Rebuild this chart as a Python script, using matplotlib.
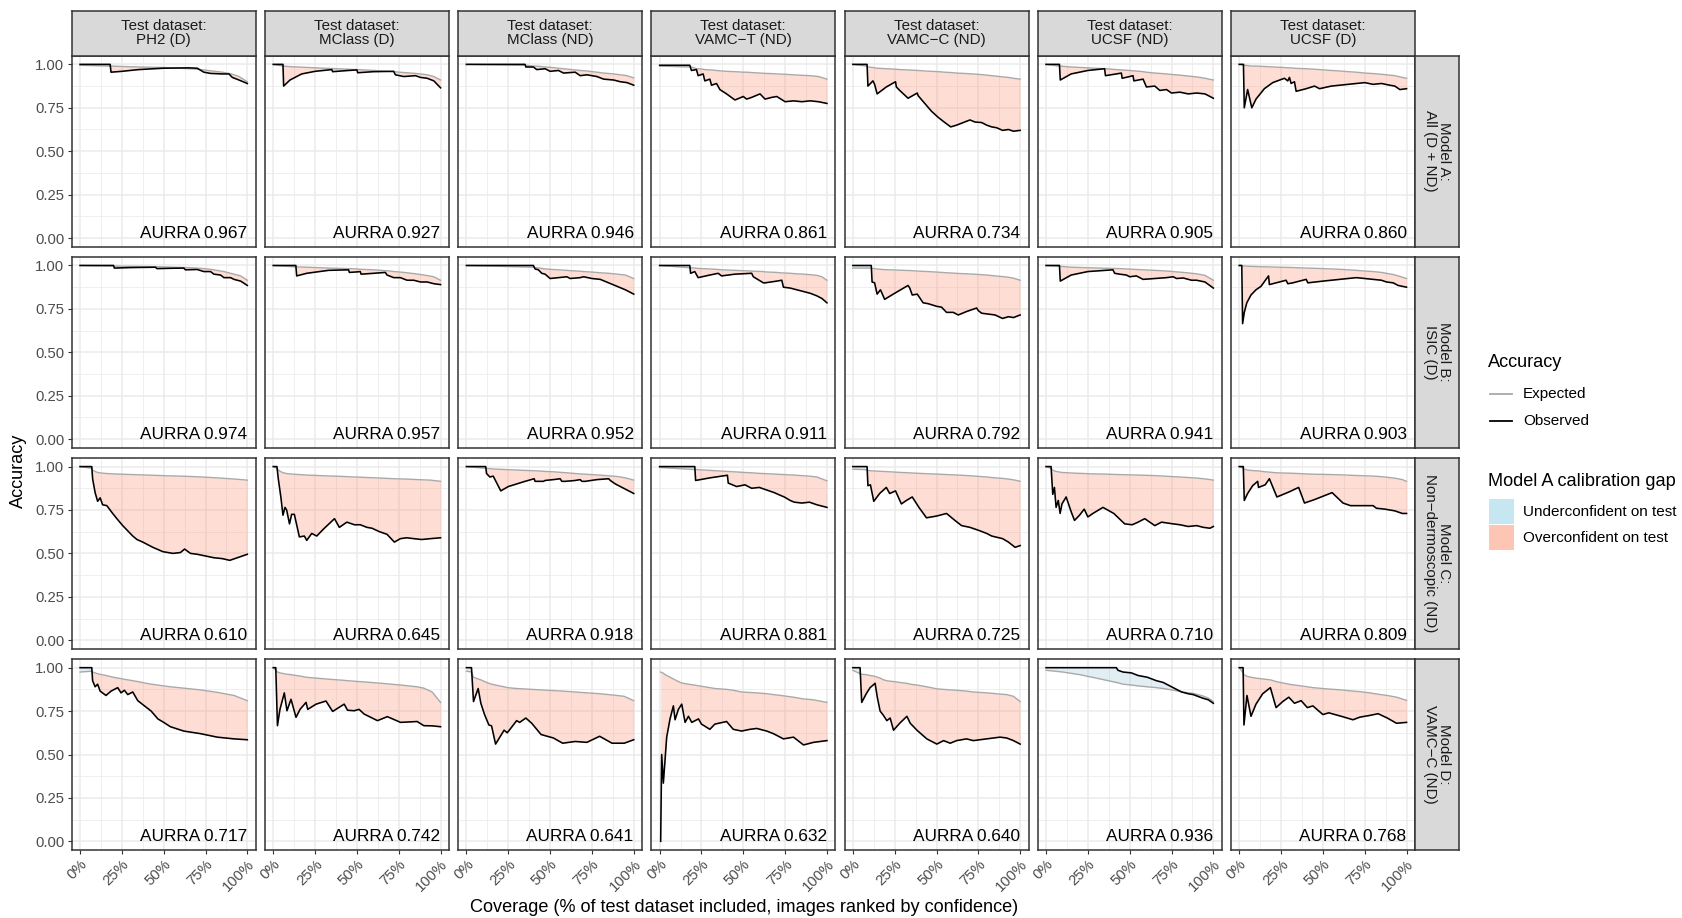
import numpy as np
import matplotlib.pyplot as plt
from matplotlib.lines import Line2D
from matplotlib.patches import Rectangle

plt.rcParams['font.family'] = ['Liberation Sans', 'DejaVu Sans']

datasets = ['PH2 (D)', 'MClass (D)', 'MClass (ND)', 'VAMC\u2212T (ND)',
            'VAMC\u2212C (ND)', 'UCSF (ND)', 'UCSF (D)']
models = ['Model A:\nAll (D + ND)', 'Model B:\nISIC (D)',
          'Model C:\nNon\u2212dermoscopic (ND)', 'Model D:\nVAMC\u2212C (ND)']

aurra_A = [0.967, 0.927, 0.946, 0.861, 0.734, 0.905, 0.860]
aurra_B = [0.974, 0.957, 0.952, 0.911, 0.792, 0.941, 0.903]
aurra_C = [0.610, 0.645, 0.918, 0.881, 0.725, 0.710, 0.809]
aurra_D = [0.717, 0.742, 0.641, 0.632, 0.640, 0.936, 0.768]

# coverage (%), expected accuracy, observed accuracy -- one list per test dataset
cov_A = [
    [0, 18, 18.5, 25, 35, 50, 65, 70, 74, 78, 85, 89, 91, 95, 100],
    [0, 5.8, 6.2, 10, 17, 25, 35, 35.5, 45, 50, 50.5, 60, 72, 73, 78, 85, 88, 92, 96, 100],
    [0, 35, 35.5, 40, 42, 47, 50, 55, 58, 65, 68, 72, 78, 82, 88, 92, 96, 100],
    [0, 18, 19, 22, 23, 26, 27, 30, 31, 34, 36, 40, 45, 50, 52, 55, 60, 63, 67, 70, 75, 80, 85, 90, 95, 100],
    [0, 8.5, 9, 12, 13, 14.5, 20, 25.5, 26, 28, 33, 38.5, 39, 43, 47, 51, 55, 58.5, 62, 66, 70, 73, 77, 80, 83, 86, 89.5, 93, 96, 100],
    [0, 8, 8.5, 15, 25, 35, 35.5, 42, 45, 45.5, 50, 52, 52.5, 58, 60, 65, 68, 72, 75, 80, 85, 90, 95, 100],
    [0, 2.5, 3, 5, 7.5, 10, 15, 20, 27, 29, 30, 31, 33, 34, 40, 45, 48, 55, 60, 65, 70, 75, 80, 85, 90, 93, 96, 100],
]
exp_A = [
    [0.995, 0.99, 0.99, 0.988, 0.985, 0.982, 0.975, 0.972, 0.968, 0.963, 0.955, 0.948, 0.943, 0.93, 0.90],
    [1.0, 0.99, 0.99, 0.987, 0.984, 0.98, 0.976, 0.976, 0.972, 0.97, 0.97, 0.965, 0.958, 0.957, 0.953, 0.948, 0.945, 0.94, 0.93, 0.91],
    [1.0, 0.995, 0.995, 0.99, 0.99, 0.985, 0.983, 0.978, 0.975, 0.968, 0.965, 0.962, 0.955, 0.95, 0.945, 0.94, 0.935, 0.922],
    [0.99, 0.985, 0.985, 0.975, 0.975, 0.972, 0.97, 0.968, 0.968, 0.965, 0.963, 0.96, 0.958, 0.955, 0.955, 0.953, 0.95, 0.948, 0.947, 0.945, 0.943, 0.94, 0.937, 0.935, 0.93, 0.915],
    [1.0, 0.99, 0.985, 0.982, 0.98, 0.978, 0.975, 0.972, 0.972, 0.97, 0.968, 0.965, 0.965, 0.962, 0.96, 0.958, 0.955, 0.953, 0.95, 0.948, 0.946, 0.944, 0.941, 0.938, 0.935, 0.932, 0.928, 0.925, 0.92, 0.915],
    [1.0, 0.99, 0.99, 0.985, 0.98, 0.975, 0.975, 0.97, 0.968, 0.968, 0.965, 0.963, 0.963, 0.958, 0.955, 0.95, 0.948, 0.945, 0.942, 0.938, 0.933, 0.928, 0.92, 0.91],
    [1.0, 0.998, 0.995, 0.993, 0.99, 0.99, 0.988, 0.985, 0.982, 0.98, 0.98, 0.98, 0.978, 0.977, 0.975, 0.972, 0.97, 0.965, 0.962, 0.958, 0.955, 0.95, 0.947, 0.943, 0.938, 0.935, 0.928, 0.92],
]
obs_A = [
    [1.0, 1.0, 0.955, 0.96, 0.97, 0.978, 0.98, 0.978, 0.955, 0.948, 0.945, 0.945, 0.925, 0.91, 0.89],
    [1.0, 1.0, 0.875, 0.91, 0.945, 0.96, 0.97, 0.958, 0.965, 0.968, 0.952, 0.958, 0.96, 0.94, 0.93, 0.935, 0.925, 0.92, 0.905, 0.865],
    [1.0, 1.0, 0.985, 0.985, 0.97, 0.975, 0.96, 0.965, 0.95, 0.955, 0.935, 0.94, 0.93, 0.915, 0.91, 0.9, 0.895, 0.88],
    [0.995, 0.995, 0.965, 0.97, 0.935, 0.945, 0.905, 0.915, 0.88, 0.89, 0.855, 0.83, 0.795, 0.815, 0.80, 0.81, 0.83, 0.80, 0.81, 0.815, 0.785, 0.79, 0.785, 0.79, 0.785, 0.775],
    [1.0, 1.0, 0.875, 0.905, 0.885, 0.83, 0.87, 0.9, 0.87, 0.85, 0.805, 0.835, 0.82, 0.775, 0.73, 0.695, 0.665, 0.64, 0.65, 0.665, 0.68, 0.668, 0.665, 0.65, 0.64, 0.635, 0.62, 0.625, 0.615, 0.62],
    [1.0, 1.0, 0.91, 0.945, 0.965, 0.975, 0.935, 0.945, 0.95, 0.92, 0.93, 0.935, 0.905, 0.915, 0.87, 0.875, 0.85, 0.855, 0.835, 0.84, 0.83, 0.835, 0.83, 0.805],
    [1.0, 1.0, 0.75, 0.855, 0.75, 0.8, 0.86, 0.895, 0.92, 0.905, 0.925, 0.89, 0.9, 0.845, 0.86, 0.875, 0.86, 0.875, 0.88, 0.885, 0.89, 0.895, 0.885, 0.89, 0.88, 0.875, 0.855, 0.86],
]

cov_B = [
    [0, 20, 20.5, 30, 45, 46, 55, 62, 63, 70, 74, 78, 80, 84, 86, 90, 92, 96, 100],
    [0, 13.5, 14, 20, 33, 45, 45.5, 50, 52, 52.5, 60, 67, 68, 72, 76, 80, 84, 88, 92, 96, 100],
    [0, 40, 41, 43, 45, 47, 50, 55, 60, 62, 68, 70, 75, 80, 85, 90, 95, 100],
    [0, 18, 18.5, 21, 23, 30, 35, 37, 45, 55, 56, 62, 63, 70, 73, 74, 78, 82, 86, 90, 94, 97, 100],
    [0, 11, 11.5, 13, 14.5, 16.5, 19, 25, 33, 34, 35.5, 38.5, 42, 45, 50, 53, 56, 60, 63, 68, 74, 75, 77, 81, 85, 89.5, 93, 96, 100],
    [0, 8, 8.5, 15, 25, 40, 41, 44, 48, 50, 54, 58, 65, 72, 76, 78, 82, 87, 90, 95, 100],
    [0, 1.5, 2, 3, 4.5, 7, 10, 13, 17.5, 18, 20, 28, 29, 32, 40, 41, 50, 60, 65, 70, 75, 80, 85, 88, 92, 95, 100],
]
exp_B = [
    [1.0, 0.997, 0.996, 0.995, 0.993, 0.993, 0.99, 0.988, 0.988, 0.985, 0.982, 0.978, 0.975, 0.968, 0.965, 0.955, 0.95, 0.94, 0.915],
    [1.0, 0.992, 0.992, 0.99, 0.985, 0.982, 0.982, 0.98, 0.978, 0.978, 0.975, 0.97, 0.97, 0.965, 0.962, 0.958, 0.953, 0.948, 0.942, 0.935, 0.915],
    [1.0, 0.99, 0.988, 0.986, 0.983, 0.98, 0.978, 0.975, 0.972, 0.97, 0.967, 0.965, 0.962, 0.958, 0.955, 0.95, 0.945, 0.925],
    [1.0, 0.987, 0.987, 0.985, 0.983, 0.98, 0.977, 0.975, 0.972, 0.968, 0.967, 0.965, 0.963, 0.96, 0.957, 0.957, 0.955, 0.952, 0.95, 0.947, 0.943, 0.935, 0.915],
    [0.985, 0.985, 0.983, 0.982, 0.98, 0.978, 0.976, 0.974, 0.971, 0.971, 0.97, 0.968, 0.966, 0.965, 0.962, 0.96, 0.958, 0.956, 0.954, 0.952, 0.949, 0.948, 0.947, 0.944, 0.94, 0.936, 0.932, 0.927, 0.915],
    [1.0, 0.995, 0.995, 0.99, 0.987, 0.983, 0.983, 0.982, 0.98, 0.979, 0.977, 0.975, 0.972, 0.968, 0.965, 0.963, 0.96, 0.955, 0.952, 0.943, 0.915],
    [1.0, 1.0, 0.998, 0.997, 0.996, 0.995, 0.994, 0.993, 0.992, 0.992, 0.991, 0.989, 0.989, 0.988, 0.985, 0.985, 0.982, 0.978, 0.975, 0.972, 0.968, 0.965, 0.96, 0.955, 0.948, 0.94, 0.925],
]
obs_B = [
    [1.0, 1.0, 0.985, 0.988, 0.99, 0.982, 0.984, 0.985, 0.975, 0.977, 0.965, 0.965, 0.95, 0.945, 0.93, 0.93, 0.92, 0.91, 0.885],
    [1.0, 1.0, 0.94, 0.955, 0.972, 0.975, 0.96, 0.963, 0.965, 0.95, 0.955, 0.96, 0.945, 0.93, 0.93, 0.915, 0.915, 0.905, 0.905, 0.895, 0.89],
    [1.0, 1.0, 0.98, 0.975, 0.955, 0.95, 0.925, 0.93, 0.935, 0.925, 0.93, 0.935, 0.925, 0.92, 0.9, 0.88, 0.86, 0.835],
    [1.0, 1.0, 0.955, 0.965, 0.93, 0.945, 0.955, 0.94, 0.95, 0.955, 0.935, 0.9, 0.9, 0.91, 0.915, 0.875, 0.87, 0.86, 0.85, 0.84, 0.825, 0.81, 0.785],
    [1.0, 1.0, 0.905, 0.9, 0.835, 0.86, 0.805, 0.84, 0.885, 0.87, 0.83, 0.835, 0.785, 0.78, 0.765, 0.76, 0.73, 0.73, 0.715, 0.735, 0.755, 0.74, 0.725, 0.72, 0.715, 0.695, 0.705, 0.7, 0.715],
    [1.0, 1.0, 0.91, 0.945, 0.965, 0.975, 0.955, 0.95, 0.945, 0.935, 0.94, 0.92, 0.925, 0.93, 0.935, 0.925, 0.928, 0.915, 0.915, 0.905, 0.87],
    [1.0, 1.0, 0.665, 0.73, 0.785, 0.83, 0.86, 0.88, 0.94, 0.89, 0.895, 0.915, 0.895, 0.9, 0.92, 0.9, 0.91, 0.92, 0.925, 0.93, 0.925, 0.92, 0.915, 0.905, 0.9, 0.885, 0.875],
]

cov_C = [
    [0, 7, 7.5, 9, 10.5, 12, 13.5, 16, 19.5, 22, 25.5, 28, 31.5, 34, 37.5, 43.5, 49.5, 55.5, 60, 62.5, 66, 70, 75, 80, 85, 89.5, 94, 100],
    [0, 2.2, 3, 4.6, 5.8, 7, 8, 9.7, 11, 12.6, 15.6, 18.6, 20, 23, 26, 30, 36.6, 39.5, 44, 48.5, 52, 56, 59, 63.5, 68, 72.4, 76, 79.8, 84, 88.7, 94, 100],
    [0, 11.5, 12, 14, 16, 20.5, 25, 30, 35, 40.5, 41, 46, 47, 52, 56, 57, 59, 65, 68, 69, 71, 78, 85, 86, 89, 92, 95, 100],
    [0, 21, 21.5, 30, 40.5, 41, 46, 51, 55, 59.5, 64, 68.5, 72, 74.5, 78, 80.5, 85, 89.5, 94, 100],
    [0, 8.5, 9, 10.5, 12.5, 16, 20, 22, 25.5, 29, 32, 35.5, 39.5, 44, 50, 56, 61, 65, 70, 76, 80, 83, 89.5, 93, 97, 100],
    [0, 3, 4, 5, 6, 7.3, 8.4, 9.5, 12, 15, 17, 20, 22.8, 25, 28, 34, 40.5, 47, 51.5, 55, 59, 65, 69, 76, 80, 85, 90, 94, 98, 100],
    [0, 2.4, 3, 5, 8, 11, 11.5, 15.5, 18, 22.5, 30, 35.5, 39, 45, 55.5, 62, 66.5, 72, 80, 82, 87, 93, 97.5, 100],
]
exp_C = [
    [1.0, 0.99, 0.98, 0.972, 0.966, 0.964, 0.962, 0.96, 0.958, 0.957, 0.956, 0.955, 0.954, 0.953, 0.952, 0.95, 0.948, 0.946, 0.945, 0.944, 0.943, 0.941, 0.939, 0.936, 0.933, 0.93, 0.927, 0.922],
    [1.0, 0.99, 0.98, 0.97, 0.965, 0.962, 0.96, 0.958, 0.957, 0.956, 0.954, 0.952, 0.951, 0.95, 0.949, 0.947, 0.945, 0.944, 0.942, 0.94, 0.939, 0.937, 0.936, 0.934, 0.932, 0.93, 0.929, 0.928, 0.926, 0.924, 0.922, 0.915],
    [1.0, 0.99, 0.99, 0.988, 0.986, 0.984, 0.982, 0.98, 0.978, 0.976, 0.976, 0.973, 0.972, 0.97, 0.967, 0.966, 0.965, 0.96, 0.958, 0.957, 0.956, 0.952, 0.947, 0.946, 0.944, 0.94, 0.935, 0.922],
    [0.995, 0.983, 0.983, 0.978, 0.972, 0.972, 0.969, 0.966, 0.964, 0.961, 0.959, 0.957, 0.955, 0.954, 0.952, 0.951, 0.948, 0.945, 0.94, 0.918],
    [0.985, 0.982, 0.978, 0.976, 0.975, 0.973, 0.971, 0.97, 0.968, 0.966, 0.965, 0.963, 0.961, 0.959, 0.957, 0.954, 0.952, 0.95, 0.947, 0.943, 0.94, 0.937, 0.932, 0.928, 0.922, 0.915],
    [1.0, 0.99, 0.98, 0.975, 0.972, 0.97, 0.968, 0.966, 0.965, 0.963, 0.962, 0.961, 0.96, 0.959, 0.958, 0.957, 0.955, 0.953, 0.952, 0.951, 0.95, 0.948, 0.946, 0.942, 0.94, 0.937, 0.934, 0.93, 0.925, 0.922],
    [1.0, 0.99, 0.985, 0.98, 0.977, 0.975, 0.975, 0.97, 0.968, 0.964, 0.962, 0.96, 0.958, 0.956, 0.954, 0.952, 0.95, 0.948, 0.945, 0.944, 0.94, 0.933, 0.925, 0.915],
]
obs_C = [
    [1.0, 1.0, 0.93, 0.85, 0.8, 0.82, 0.78, 0.775, 0.73, 0.7, 0.66, 0.635, 0.6, 0.58, 0.565, 0.535, 0.51, 0.5, 0.505, 0.525, 0.5, 0.495, 0.485, 0.475, 0.47, 0.46, 0.475, 0.495],
    [1.0, 1.0, 0.93, 0.82, 0.72, 0.765, 0.75, 0.67, 0.725, 0.725, 0.595, 0.6, 0.575, 0.615, 0.6, 0.64, 0.7, 0.65, 0.68, 0.665, 0.665, 0.65, 0.645, 0.625, 0.61, 0.565, 0.585, 0.59, 0.585, 0.58, 0.585, 0.59],
    [1.0, 1.0, 0.96, 0.94, 0.945, 0.86, 0.885, 0.9, 0.915, 0.93, 0.915, 0.915, 0.92, 0.925, 0.93, 0.915, 0.915, 0.92, 0.925, 0.915, 0.915, 0.925, 0.93, 0.92, 0.9, 0.885, 0.87, 0.845],
    [1.0, 1.0, 0.92, 0.935, 0.95, 0.905, 0.885, 0.895, 0.875, 0.88, 0.865, 0.85, 0.835, 0.825, 0.805, 0.795, 0.79, 0.795, 0.78, 0.765],
    [1.0, 1.0, 0.89, 0.895, 0.8, 0.845, 0.88, 0.845, 0.86, 0.785, 0.805, 0.825, 0.765, 0.705, 0.715, 0.73, 0.69, 0.66, 0.65, 0.63, 0.615, 0.6, 0.585, 0.565, 0.535, 0.545],
    [1.0, 1.0, 0.84, 0.88, 0.765, 0.805, 0.73, 0.785, 0.825, 0.74, 0.69, 0.72, 0.755, 0.71, 0.73, 0.765, 0.73, 0.67, 0.665, 0.68, 0.70, 0.66, 0.68, 0.67, 0.665, 0.655, 0.66, 0.65, 0.645, 0.655],
    [1.0, 1.0, 0.805, 0.845, 0.89, 0.915, 0.88, 0.895, 0.93, 0.825, 0.855, 0.88, 0.79, 0.81, 0.85, 0.79, 0.775, 0.775, 0.775, 0.76, 0.755, 0.745, 0.73, 0.73],
]

cov_D = [
    [0, 7, 7.5, 9, 10.5, 12, 15.5, 18.5, 22.5, 24.5, 26.5, 28.5, 31.5, 34.5, 38.5, 42.5, 46.5, 50, 54, 62, 72, 82, 92, 100],
    [0, 1.5, 2.5, 4, 6.6, 8.2, 10.6, 13.6, 16, 19.6, 20.6, 25.6, 31.5, 35.5, 42.4, 44.4, 48.4, 51.3, 54.3, 62.3, 68.2, 76.1, 86, 90, 95, 100],
    [0, 3, 4.2, 7, 8.6, 10.8, 13.4, 15, 17.4, 22.5, 24.4, 30, 31.8, 35.5, 39, 44.6, 52, 57.5, 65, 72, 79.6, 87, 94.3, 100],
    [0.6, 1.2, 2.2, 3, 4.2, 6.2, 8.2, 9.2, 11.2, 13.2, 15.2, 17.2, 19.2, 23.2, 25, 30, 33, 40, 44, 49, 54, 58, 64, 68, 74, 80, 86, 92, 100],
    [0, 4.3, 5.3, 8, 10.3, 13.3, 14.6, 16.3, 18.3, 20.3, 22.3, 24.3, 28, 32.3, 34.3, 38.3, 44.2, 50.2, 54.2, 58.2, 62, 68, 72, 80, 88, 92, 96, 100],
    [0, 10, 20, 30, 42, 43, 46, 51, 55, 60.5, 66, 70, 75, 81, 85, 88, 93.5, 97, 100],
    [0, 2.3, 2.8, 4.6, 7, 10, 14, 18.6, 22, 26, 29.6, 33, 37, 40.7, 44, 50, 53.5, 61, 68, 72, 78, 83, 88.5, 94, 100],
]
exp_D = [
    [0.975, 0.98, 0.975, 0.97, 0.965, 0.962, 0.955, 0.948, 0.94, 0.937, 0.933, 0.93, 0.925, 0.92, 0.912, 0.905, 0.9, 0.895, 0.89, 0.882, 0.872, 0.858, 0.84, 0.81],
    [1.0, 0.985, 0.975, 0.97, 0.965, 0.962, 0.96, 0.955, 0.952, 0.945, 0.944, 0.94, 0.935, 0.932, 0.927, 0.925, 0.922, 0.92, 0.918, 0.912, 0.907, 0.9, 0.89, 0.882, 0.86, 0.80],
    [0.98, 0.975, 0.945, 0.935, 0.93, 0.92, 0.91, 0.905, 0.9, 0.89, 0.885, 0.88, 0.879, 0.877, 0.875, 0.872, 0.868, 0.865, 0.86, 0.855, 0.85, 0.843, 0.835, 0.81],
    [0.975, 0.972, 0.968, 0.962, 0.955, 0.945, 0.935, 0.93, 0.92, 0.912, 0.908, 0.905, 0.902, 0.896, 0.893, 0.885, 0.88, 0.875, 0.87, 0.86, 0.857, 0.855, 0.85, 0.845, 0.838, 0.83, 0.82, 0.815, 0.80],
    [0.985, 0.965, 0.962, 0.96, 0.955, 0.95, 0.945, 0.94, 0.93, 0.925, 0.922, 0.92, 0.915, 0.91, 0.905, 0.9, 0.89, 0.878, 0.875, 0.872, 0.87, 0.865, 0.86, 0.855, 0.848, 0.845, 0.835, 0.805],
    [0.985, 0.975, 0.96, 0.94, 0.915, 0.913, 0.905, 0.9, 0.895, 0.89, 0.885, 0.88, 0.872, 0.862, 0.855, 0.852, 0.838, 0.825, 0.805],
    [1.0, 0.97, 0.96, 0.95, 0.945, 0.94, 0.935, 0.93, 0.92, 0.912, 0.905, 0.9, 0.895, 0.89, 0.885, 0.88, 0.877, 0.872, 0.865, 0.862, 0.855, 0.847, 0.84, 0.83, 0.812],
]
obs_D = [
    [1.0, 1.0, 0.925, 0.89, 0.905, 0.865, 0.84, 0.865, 0.885, 0.855, 0.87, 0.845, 0.86, 0.81, 0.78, 0.75, 0.705, 0.685, 0.66, 0.635, 0.62, 0.60, 0.59, 0.585],
    [1.0, 1.0, 0.666, 0.76, 0.855, 0.752, 0.818, 0.714, 0.76, 0.80, 0.76, 0.79, 0.808, 0.748, 0.79, 0.755, 0.752, 0.76, 0.733, 0.695, 0.718, 0.685, 0.69, 0.666, 0.665, 0.66],
    [1.0, 1.0, 0.805, 0.88, 0.795, 0.73, 0.67, 0.665, 0.56, 0.64, 0.625, 0.695, 0.685, 0.71, 0.68, 0.615, 0.595, 0.565, 0.575, 0.57, 0.605, 0.565, 0.565, 0.585],
    [0.0, 0.5, 0.335, 0.44, 0.6, 0.705, 0.78, 0.70, 0.76, 0.79, 0.685, 0.72, 0.685, 0.705, 0.675, 0.645, 0.675, 0.69, 0.645, 0.635, 0.645, 0.65, 0.635, 0.62, 0.59, 0.6, 0.555, 0.57, 0.58],
    [1.0, 1.0, 0.80, 0.85, 0.885, 0.91, 0.83, 0.75, 0.725, 0.695, 0.71, 0.64, 0.68, 0.72, 0.68, 0.64, 0.59, 0.56, 0.58, 0.565, 0.58, 0.59, 0.58, 0.59, 0.60, 0.595, 0.58, 0.56],
    [1.0, 1.0, 1.0, 1.0, 1.0, 0.985, 0.975, 0.97, 0.955, 0.945, 0.925, 0.915, 0.89, 0.86, 0.85, 0.845, 0.825, 0.815, 0.795],
    [1.0, 1.0, 0.67, 0.84, 0.72, 0.79, 0.85, 0.885, 0.77, 0.805, 0.83, 0.795, 0.81, 0.77, 0.78, 0.73, 0.74, 0.72, 0.70, 0.715, 0.725, 0.735, 0.71, 0.68, 0.685],
]

cov_rows = [cov_A, cov_B, cov_C, cov_D]
exp_rows = [exp_A, exp_B, exp_C, exp_D]
obs_rows = [obs_A, obs_B, obs_C, obs_D]
aurra_rows = [aurra_A, aurra_B, aurra_C, aurra_D]

W, H = 1683, 918
fig = plt.figure(figsize=(W / 100, H / 100), dpi=100)


def box(x0, y0, w, h):
    return [x0 / W, 1 - (y0 + h) / H, w / W, h / H]


dark = '#333333'
grey_line = '#A9A9A9'
under_col = '#9ECAE1'
over_col = '#FC9272'

for r in range(4):
    for c in range(7):
        x0 = 71.7 + c * 193.2
        y0 = 55.7 + r * 201.1
        ax = fig.add_axes(box(x0, y0, 184, 191))
        x = np.array(cov_rows[r][c]) / 100
        e = np.array(exp_rows[r][c])
        o = np.array(obs_rows[r][c])
        ax.fill_between(x, o, e, where=o < e, interpolate=True,
                        color=over_col, alpha=0.3, lw=0, zorder=2)
        ax.fill_between(x, o, e, where=o > e, interpolate=True,
                        color=under_col, alpha=0.3, lw=0, zorder=2)
        ax.plot(x, e, color=grey_line, lw=1.0, zorder=3)
        ax.plot(x, o, color='black', lw=1.15, zorder=4)
        ax.text(1.0, 0.0, 'AURRA %.3f' % aurra_rows[r][c], ha='right',
                va='baseline', fontsize=12.4, color='black', zorder=5)

        ax.set_xlim(-0.05, 1.05)
        ax.set_ylim(-0.05, 1.05)
        ax.set_xticks([0, 0.25, 0.5, 0.75, 1.0])
        ax.set_xticklabels(['0%', '25%', '50%', '75%', '100%'])
        ax.set_yticks([0, 0.25, 0.5, 0.75, 1.0])
        ax.set_yticklabels(['0.00', '0.25', '0.50', '0.75', '1.00'])
        ax.set_xticks([0.125, 0.375, 0.625, 0.875], minor=True)
        ax.set_yticks([0.125, 0.375, 0.625, 0.875], minor=True)
        ax.grid(which='major', color='#EBEBEB', lw=1.1)
        ax.grid(which='minor', color='#EBEBEB', lw=0.55)
        ax.set_axisbelow(True)
        ax.tick_params(which='minor', length=0)
        ax.tick_params(which='major', direction='out', length=3.2, width=0.8,
                       color=dark, labelsize=10.7, labelcolor='#4D4D4D', pad=2)
        for s in ax.spines.values():
            s.set_color(dark)
            s.set_linewidth(1.1)
        if c > 0:
            ax.tick_params(axis='y', left=False, labelleft=False)
        if r < 3:
            ax.tick_params(axis='x', bottom=False, labelbottom=False)
        else:
            for lab in ax.get_xticklabels():
                lab.set_rotation(45)
                lab.set_ha('right')
                lab.set_va('top')
                lab.set_rotation_mode('anchor')

        if r == 0:
            st = fig.add_axes(box(x0, 10.7, 184, 45))
            st.set_facecolor('#D9D9D9')
            st.set_xticks([])
            st.set_yticks([])
            for s in st.spines.values():
                s.set_color(dark)
                s.set_linewidth(1.1)
            st.text(0.5, 0.5, 'Test dataset:\n' + datasets[c], ha='center',
                    va='center', fontsize=10.9, color='#1A1A1A',
                    linespacing=0.95, transform=st.transAxes)
        if c == 6:
            st = fig.add_axes(box(x0 + 184, y0, 44.3, 191))
            st.set_facecolor('#D9D9D9')
            st.set_xticks([])
            st.set_yticks([])
            for s in st.spines.values():
                s.set_color(dark)
                s.set_linewidth(1.1)
            st.text(0.5, 0.5, models[r], ha='center', va='center',
                    rotation=-90, fontsize=10.9, color='#1A1A1A',
                    linespacing=0.95, transform=st.transAxes)

# axis titles
fig.text(18 / W, 1 - 471 / H, 'Accuracy', rotation=90, ha='center',
         va='center', fontsize=13.1)
fig.text(743.7 / W, 1 - 907 / H,
         'Coverage (% of test dataset included, images ranked by confidence)',
         ha='center', va='center', fontsize=13.1)

# legends
fig.text(1488 / W, 1 - 363 / H, 'Accuracy', ha='left', va='center', fontsize=13.1)
for yy, col, lab in [(394, grey_line, 'Expected'), (421, 'black', 'Observed')]:
    fig.add_artist(Line2D([1490 / W, 1512 / W], [1 - yy / H, 1 - yy / H],
                          color=col, lw=1.3, transform=fig.transFigure))
    fig.text(1523 / W, 1 - yy / H, lab, ha='left', va='center', fontsize=11)

fig.text(1488 / W, 1 - 482 / H, 'Model A calibration gap', ha='left',
         va='center', fontsize=13.1)
for yy, col, lab in [(499, '#C6E6F2', 'Underconfident on test'),
                     (525, '#FDC5B4', 'Overconfident on test')]:
    fig.add_artist(Rectangle((1489 / W, 1 - (yy + 25) / H), 25 / W, 25 / H,
                             facecolor=col, edgecolor='none',
                             transform=fig.transFigure))
    fig.text(1523 / W, 1 - (yy + 12.5) / H, lab, ha='left', va='center',
             fontsize=11)

fig.savefig('out.png', dpi=100)
